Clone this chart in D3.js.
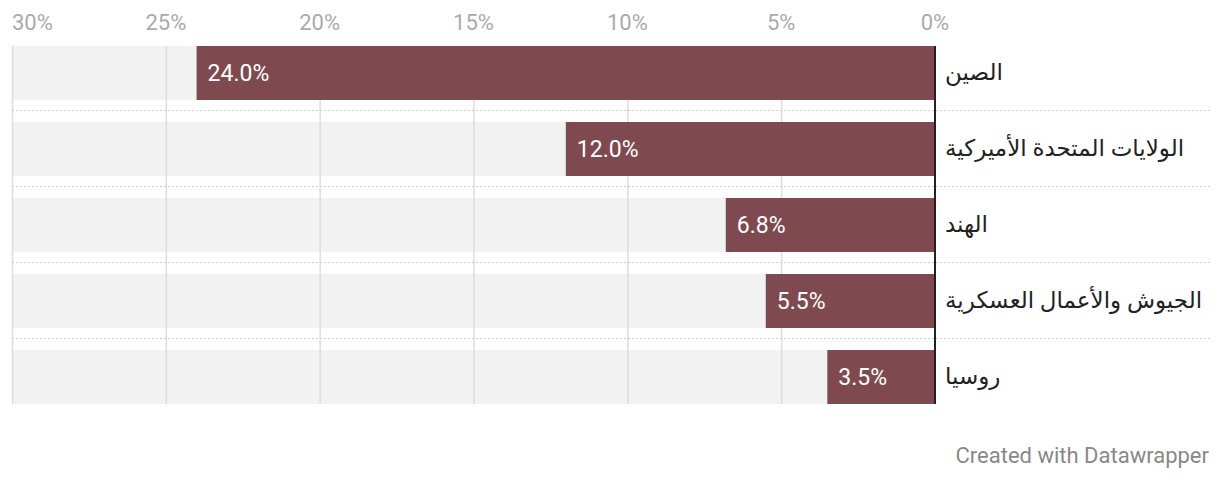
<!DOCTYPE html>
<html>
<head>
<meta charset="utf-8">
<script src="https://cdn.jsdelivr.net/npm/d3@7"></script>
<style>
  body { margin: 0; background: #fff; }
  svg text { font-family: Roboto, "DejaVu Sans", sans-serif; }
</style>
</head>
<body>
<div id="chart"></div>
<script>
// data
var categories = ["الصين", "الولايات المتحدة الأميركية", "الهند", "الجيوش والأعمال العسكرية", "روسيا"];
var values = [24.0, 12.0, 6.8, 5.5, 3.5];
var tickValues = [30, 25, 20, 15, 10, 5, 0];

var width = 1220, height = 480;
var left = 12, zero = 935;
var plotTop = 46, plotBottom = 404;

var svg = d3.select("#chart").append("svg")
    .attr("width", width)
    .attr("height", height);

// x runs right-to-left: 0% at zero line, 30% at left edge
var x = d3.scaleLinear()
    .domain([0, 30])
    .range([zero, left]);

// rows: step 76, bar 54
var y = d3.scaleBand()
    .domain(d3.range(categories.length))
    .range([plotTop, plotBottom])
    .paddingInner(22 / 76)
    .paddingOuter(0);

var barH = y.bandwidth();

// background bars
svg.append("g").selectAll("rect")
    .data(values)
    .join("rect")
    .attr("x", left)
    .attr("y", function(d, i){ return y(i); })
    .attr("width", zero - left)
    .attr("height", barH)
    .attr("fill", "#f2f2f2");

// gridlines
svg.append("g").selectAll("line")
    .data(tickValues.filter(function(t){ return t > 0; }))
    .join("line")
    .attr("x1", function(d){ return x(d) + 0.5; })
    .attr("x2", function(d){ return x(d) + 0.5; })
    .attr("y1", plotTop)
    .attr("y2", plotBottom)
    .attr("stroke", "#dddddd")
    .attr("stroke-width", 1.5);

// dotted separators
svg.append("g").selectAll("line")
    .data(d3.range(categories.length - 1))
    .join("line")
    .attr("x1", left)
    .attr("x2", 1210)
    .attr("y1", function(i){ return y(i) + barH + 10.5; })
    .attr("y2", function(i){ return y(i) + barH + 10.5; })
    .attr("stroke", "#cccccc")
    .attr("stroke-width", 1.2)
    .attr("stroke-dasharray", "2,2");

// bars
svg.append("g").selectAll("rect")
    .data(values)
    .join("rect")
    .attr("x", function(d){ return x(d); })
    .attr("y", function(d, i){ return y(i); })
    .attr("width", function(d){ return zero - x(d); })
    .attr("height", barH)
    .attr("fill", "#7f4a4f");

// zero line
svg.append("line")
    .attr("x1", zero).attr("x2", zero)
    .attr("y1", plotTop).attr("y2", plotBottom)
    .attr("stroke", "#222")
    .attr("stroke-width", 2);

// value labels
svg.append("g").selectAll("text")
    .data(values)
    .join("text")
    .attr("x", function(d){ return x(d) + 11; })
    .attr("y", function(d, i){ return y(i) + barH / 2 + 8; })
    .attr("fill", "#fff")
    .attr("font-size", 23)
    .text(function(d){ return d.toFixed(1) + "%"; });

// category labels
svg.append("g").selectAll("text")
    .data(categories)
    .join("text")
    .attr("x", 945)
    .attr("y", function(d, i){ return y(i) + barH / 2 + 7; })
    .attr("fill", "#222")
    .attr("font-size", 23)
    .text(function(d){ return d; });

// axis tick labels
svg.append("g").selectAll("text")
    .data(tickValues)
    .join("text")
    .attr("x", function(d){ return x(d); })
    .attr("y", 30)
    .attr("text-anchor", function(d, i){ return i === 0 ? "start" : "middle"; })
    .attr("fill", "#aaaaaa")
    .attr("font-size", 22)
    .text(function(d){ return d + "%"; });

// credit
svg.append("text")
    .attr("x", 1209)
    .attr("y", 463)
    .attr("text-anchor", "end")
    .attr("fill", "#888888")
    .attr("font-size", 22)
    .text("Created with Datawrapper");
</script>
</body>
</html>
